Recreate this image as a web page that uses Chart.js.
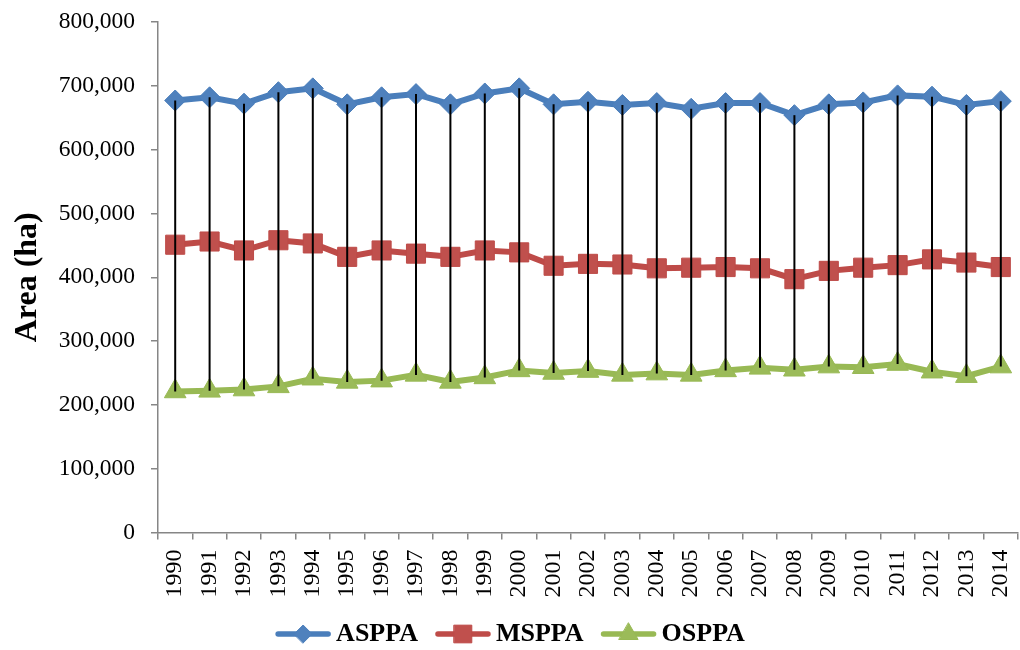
<!DOCTYPE html>
<html>
<head>
<meta charset="utf-8">
<script src="https://cdn.jsdelivr.net/npm/chart.js@4.4.1/dist/chart.umd.min.js"></script>
<style>
  html, body { margin: 0; padding: 0; background: #ffffff; }
  #wrap { width: 1020px; height: 650px; }
</style>
</head>
<body>
<div id="wrap"><canvas id="chart" width="1020" height="650"></canvas></div>
<script>
// Protected area per year (ha)
const years = ['1990','1991','1992','1993','1994','1995','1996','1997','1998','1999',
               '2000','2001','2002','2003','2004','2005','2006','2007','2008','2009',
               '2010','2011','2012','2013','2014'];
const asppa = [677000, 682000, 672000, 690000, 696000, 671000, 682000, 687000, 671000, 688000,
               696000, 671000, 675000, 670000, 673000, 664000, 673000, 673000, 654000, 671000,
               674000, 685000, 683000, 670000, 676000];
const msppa = [451000, 456000, 442000, 458000, 453000, 432000, 442000, 437000, 432000, 442000,
               439000, 418000, 421000, 420000, 414000, 415000, 416000, 414000, 397000, 410000,
               415000, 419000, 428000, 423000, 416000];
const osppa = [221000, 222000, 224000, 229000, 241000, 236000, 238000, 247000, 236000, 243000,
               254000, 250000, 253000, 247000, 249000, 247000, 254000, 258000, 255000, 260000,
               259000, 264000, 252000, 245000, 260000];
const seriesNames = ['ASPPA', 'MSPPA', 'OSPPA'];
const yMin = 0, yMax = 800000, yStep = 100000;

const FONT = '"Liberation Serif", "Times New Roman", serif';
const AXIS_GREY = '#868686';

// Axes keep no extra edge padding for overhanging labels
const noEdgePadding = () => ({ left: 0, top: 0, right: 0, bottom: 0 });

// Vertical high-low connectors from the highest to the lowest series at each year
const highLowLines = {
  id: 'highLowLines',
  afterDatasetsDraw(chart) {
    const { ctx, scales: { x, y } } = chart;
    const series = chart.data.datasets.map(d => d.data);
    ctx.save();
    ctx.strokeStyle = '#000000';
    ctx.lineWidth = 2;
    years.forEach((_, i) => {
      const vals = series.map(s => s[i]);
      const px = x.getPixelForValue(i);
      ctx.beginPath();
      ctx.moveTo(px, y.getPixelForValue(Math.max(...vals)));
      ctx.lineTo(px, y.getPixelForValue(Math.min(...vals)));
      ctx.stroke();
    });
    ctx.restore();
  }
};

// Legend row under the axis: line sample with marker, then bold name
const lineLegend = {
  id: 'lineLegend',
  afterDraw(chart, args, opts) {
    const ctx = chart.ctx;
    ctx.save();
    ctx.font = 'bold 26px ' + FONT;
    const sampleW = 56, gapText = 5, gapItem = 17;
    const items = chart.data.datasets.map((ds, i) => ({ ds, i, w: ctx.measureText(ds.label).width }));
    const total = items.reduce((s, it) => s + sampleW + gapText + it.w, 0) + gapItem * (items.length - 1);
    let x = chart.width / 2 - total / 2;
    const yc = opts.y;
    items.forEach(({ ds, i, w }) => {
      ctx.strokeStyle = ds.borderColor;
      ctx.lineWidth = 5.5;
      ctx.lineCap = 'round';
      ctx.beginPath();
      ctx.moveTo(x + 3, yc);
      ctx.lineTo(x + sampleW - 3, yc);
      ctx.stroke();
      ctx.fillStyle = ds.pointBackgroundColor;
      ctx.strokeStyle = ds.pointBorderColor;
      ctx.lineWidth = 1;
      Chart.helpers.drawPoint(ctx, {
        pointStyle: ds.pointStyle, radius: opts.radius[i], rotation: 0, borderWidth: 1
      }, x + sampleW / 2, yc);
      ctx.fillStyle = '#000000';
      ctx.textBaseline = 'middle';
      ctx.textAlign = 'left';
      ctx.fillText(ds.label, x + sampleW + gapText, yc);
      x += sampleW + gapText + w + gapItem;
    });
    ctx.restore();
  }
};

new Chart(document.getElementById('chart'), {
  type: 'line',
  data: {
    labels: years,
    datasets: [
      {
        label: seriesNames[0], data: asppa,
        borderColor: '#4A7EBB', borderWidth: 6,
        pointStyle: 'rectRot', pointRadius: 10.5,
        pointBackgroundColor: '#4F81BD', pointBorderColor: '#4A7EBB', pointBorderWidth: 1
      },
      {
        label: seriesNames[1], data: msppa,
        borderColor: '#BE4B48', borderWidth: 6,
        pointStyle: 'rect', pointRadius: 13.5,
        pointBackgroundColor: '#C0504D', pointBorderColor: '#BE4B48', pointBorderWidth: 1
      },
      {
        label: seriesNames[2], data: osppa,
        borderColor: '#98B954', borderWidth: 6,
        pointStyle: 'triangle', pointRadius: 12.5,
        pointBackgroundColor: '#9BBB59', pointBorderColor: '#98B954', pointBorderWidth: 1
      }
    ]
  },
  options: {
    responsive: false,
    animation: false,
    events: [],
    tension: 0,
    layout: { autoPadding: false, padding: { top: 22, right: 2, bottom: 52, left: 0 } },
    plugins: {
      legend: { display: false },
      tooltip: { enabled: false },
      lineLegend: { y: 634, radius: [9, 12.5, 11] }
    },
    scales: {
      x: {
        type: 'category',
        offset: true,
        grid: { offset: true, drawOnChartArea: false, drawTicks: true, tickLength: 7, color: AXIS_GREY, lineWidth: 1.5 },
        border: { color: AXIS_GREY, width: 1.5 },
        ticks: { autoSkip: false, maxRotation: 90, minRotation: 90, padding: 10, color: '#000000',
                 font: { family: FONT, size: 24 } },
        afterFit(scale) {
          scale.height = 65.5;
          scale.getPadding = noEdgePadding;
        }
      },
      y: {
        min: yMin, max: yMax,
        grid: { drawOnChartArea: false, drawTicks: true, tickLength: 7, color: AXIS_GREY, lineWidth: 1.5 },
        border: { color: AXIS_GREY, width: 1.5 },
        ticks: {
          stepSize: yStep, padding: 16, color: '#000000', font: { family: FONT, size: 23.5 },
          callback: v => v.toLocaleString('en-US')
        },
        title: {
          display: true, text: 'Area (ha)', color: '#000000',
          font: { family: FONT, size: 32, weight: 'bold' },
          padding: { top: 9, bottom: 0 }
        },
        afterFit(scale) {
          scale.width = 158;
          scale.getPadding = noEdgePadding;
        }
      }
    }
  },
  plugins: [highLowLines, lineLegend]
});
</script>
</body>
</html>
